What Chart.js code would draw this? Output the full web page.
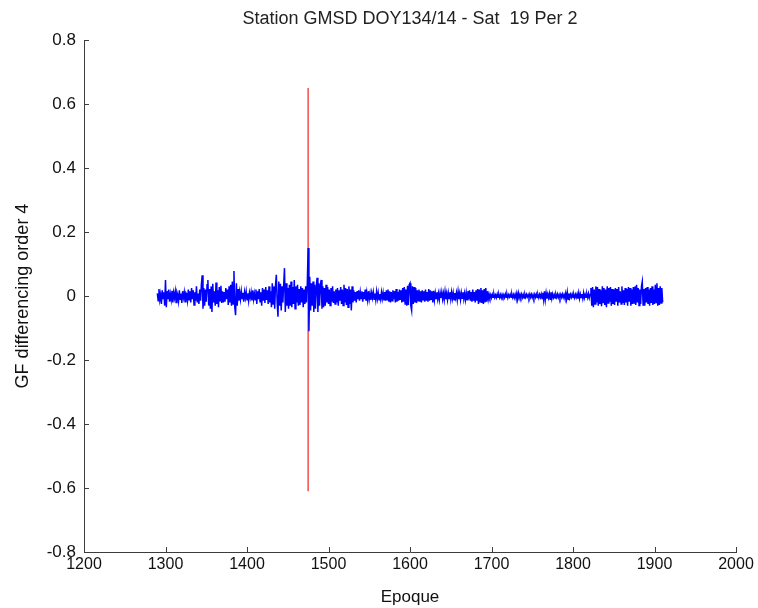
<!DOCTYPE html>
<html>
<head>
<meta charset="utf-8">
<title>GF differencing order 4</title>
<script src="https://cdn.jsdelivr.net/npm/chart.js@4.4.1/dist/chart.umd.min.js"></script>
<style>
  html, body { margin: 0; padding: 0; background: #fff; }
  #wrap { width: 758px; height: 608px; }
</style>
</head>
<body>
<div id="wrap"><canvas id="gfChart" width="758" height="608"></canvas></div>
<script>
// GF values, one per epoch from 1290 to 1910
const epochStart = 1290;
const epochStep = 1;
const gfValues = [
  // 1290
  0.008, -0.015, 0.022, -0.012, 0.005, -0.025, 0.018, -0.008, 0.012, -0.03, 0.05, -0.035, 0.015, -0.01, 0.02, -0.018, 0.006, -0.012, 0.016, -0.02,
  // 1310
  0.01, -0.006, 0.014, -0.02, 0.012, 0.004, -0.016, 0.018, -0.01, 0.008, -0.022, 0.015, -0.005, 0.012, -0.018, 0.01, 0.006, -0.014, 0.02, -0.012,
  // 1330
  0.015, -0.02, 0.025, -0.01, 0.018, -0.028, 0.012, -0.015, 0.03, -0.02, 0.008, -0.025, 0.02, -0.015, 0.035, 0.065, -0.04, 0.025, -0.03, 0.02,
  // 1350
  -0.018, 0.035, 0.05, -0.03, 0.022, -0.04, 0.03, -0.05, 0.038, -0.02, 0.015, -0.03, 0.042, -0.025, 0.018, -0.035, 0.028, -0.015, 0.032, -0.022,
  // 1370
  0.015, -0.02, 0.012, -0.018, 0.025, -0.01, 0.02, -0.028, 0.03, -0.02, 0.035, -0.03, 0.045, -0.025, 0.078, -0.035, -0.06, 0.04, -0.03, 0.022,
  // 1390
  -0.015, 0.012, -0.01, 0.015, -0.008, 0.01, -0.018, 0.012, -0.006, 0.014, -0.012, 0.008, -0.015, 0.01, -0.005, 0.012, -0.014, 0.018, -0.01, 0.008,
  // 1410
  -0.012, 0.02, -0.025, 0.015, -0.01, 0.022, -0.018, 0.012, -0.03, 0.025, -0.015, 0.02, -0.022, 0.028, -0.012, 0.018, -0.025, 0.03, -0.02, 0.015,
  // 1430
  -0.035, 0.04, -0.025, 0.03, -0.04, 0.035, 0.066, -0.02, -0.065, 0.045, -0.03, 0.038, -0.045, 0.03, -0.02, 0.035, 0.087, -0.05, 0.04, -0.03,
  // 1450
  0.025, -0.04, 0.035, -0.03, 0.045, -0.035, 0.028, -0.025, 0.05, -0.04, 0.03, -0.02, 0.035, -0.03, 0.022, -0.028, 0.03, -0.02, 0.025, -0.035,
  // 1470
  0.02, -0.025, 0.03, -0.02, 0.04, 0.15, -0.11, 0.06, -0.045, 0.04, -0.03, 0.045, -0.05, 0.035, -0.04, 0.03, 0.057, -0.05, 0.04, -0.03,
  // 1490
  0.035, 0.05, -0.04, 0.03, -0.035, 0.025, -0.03, 0.035, -0.02, 0.028, -0.025, 0.02, -0.03, 0.025, -0.018, 0.03, -0.022, 0.015, -0.025, 0.02,
  // 1510
  -0.02, 0.025, -0.03, 0.018, -0.015, 0.028, -0.025, 0.02, -0.03, 0.035, -0.02, 0.025, -0.028, 0.022, -0.035, 0.03, -0.025, 0.02, -0.045, 0.03,
  // 1530
  -0.02, 0.018, -0.015, 0.012, -0.02, 0.015, -0.01, 0.018, -0.015, 0.012, -0.008, 0.015, -0.018, 0.012, -0.01, 0.02, -0.015, 0.01, -0.012, 0.015,
  // 1550
  -0.01, 0.008, -0.012, 0.01, -0.006, 0.012, -0.01, 0.008, -0.012, 0.014, -0.008, 0.01, -0.012, 0.006, -0.01, 0.012, -0.008, 0.01, -0.014, 0.012,
  // 1570
  -0.015, 0.018, -0.012, 0.02, -0.018, 0.015, -0.02, 0.012, -0.015, 0.018, -0.01, 0.015, -0.02, 0.022, -0.018, 0.012, -0.015, 0.02, -0.012, 0.018,
  // 1590
  -0.02, 0.025, -0.018, 0.028, -0.025, 0.02, -0.03, 0.032, -0.028, 0.035, 0.04, -0.03, -0.045, 0.03, -0.025, 0.028, -0.02, 0.025, -0.022, 0.018,
  // 1610
  -0.015, 0.02, -0.018, 0.015, -0.02, 0.018, -0.012, 0.015, -0.018, 0.02, -0.015, 0.012, -0.018, 0.022, -0.015, 0.018, -0.012, 0.015, -0.02, 0.016,
  // 1630
  -0.012, 0.01, -0.008, 0.012, -0.01, 0.008, -0.012, 0.01, -0.006, 0.012, -0.01, 0.008, -0.012, 0.014, -0.01, 0.008, -0.012, 0.01, -0.008, 0.012,
  // 1650
  -0.01, 0.012, -0.008, 0.01, -0.012, 0.009, -0.006, 0.01, -0.012, 0.014, -0.01, 0.008, -0.012, 0.01, -0.007, 0.012, -0.01, 0.008, -0.012, 0.01,
  // 1670
  -0.012, 0.015, -0.01, 0.018, -0.015, 0.012, -0.018, 0.02, -0.015, 0.012, -0.02, 0.018, -0.015, 0.022, -0.025, 0.02, -0.018, 0.025, -0.022, 0.018,
  // 1690
  -0.025, 0.022, -0.02, 0.025, -0.018, 0.015, -0.01, 0.006, -0.005, 0.004, -0.006, 0.005, -0.004, 0.006, -0.005, 0.003, -0.005, 0.006, -0.004, 0.005,
  // 1710
  -0.005, 0.004, -0.006, 0.005, -0.003, 0.004, -0.005, 0.006, -0.004, 0.005, -0.006, 0.004, -0.003, 0.005, -0.004, 0.006, -0.005, 0.004, -0.006, 0.005,
  // 1730
  -0.006, 0.008, -0.01, 0.009, -0.006, 0.005, -0.004, 0.006, -0.005, 0.004, -0.006, 0.005, -0.004, 0.005, -0.003, 0.004, -0.005, 0.006, -0.004, 0.005,
  // 1750
  -0.005, 0.004, -0.006, 0.005, -0.004, 0.006, -0.005, 0.004, -0.006, 0.005, -0.004, 0.006, -0.008, 0.01, -0.012, 0.015, -0.012, 0.01, -0.008, 0.006,
  // 1770
  -0.006, 0.008, -0.01, 0.012, -0.008, 0.006, -0.005, 0.004, -0.006, 0.005, -0.004, 0.006, -0.005, 0.004, -0.006, 0.005, -0.004, 0.006, -0.005, 0.004,
  // 1790
  -0.006, 0.008, -0.01, 0.012, -0.01, 0.008, -0.006, 0.005, -0.004, 0.006, -0.005, 0.004, -0.006, 0.005, -0.004, 0.006, -0.008, 0.01, -0.008, 0.006,
  // 1810
  -0.005, 0.006, -0.008, 0.01, -0.006, 0.005, -0.004, 0.006, -0.005, 0.008, -0.006, 0.005, 0.025, -0.03, 0.028, -0.035, 0.02, -0.025, 0.03, -0.02,
  // 1830
  0.028, -0.03, 0.022, -0.025, 0.018, -0.032, 0.03, -0.02, 0.025, -0.028, 0.02, -0.035, 0.03, -0.022, 0.025, -0.018, 0.028, -0.03, 0.022, -0.025,
  // 1850
  0.02, -0.028, 0.025, -0.018, 0.022, -0.03, 0.028, -0.02, 0.015, -0.025, 0.03, -0.022, 0.018, -0.028, 0.025, -0.02, 0.022, -0.03, 0.028, -0.018,
  // 1870
  0.025, -0.03, 0.02, -0.025, 0.028, -0.022, 0.03, -0.028, 0.035, -0.02, 0.025, -0.03, 0.02, -0.025, 0.03, 0.045, -0.028, 0.022, -0.03, 0.025,
  // 1890
  -0.02, 0.028, -0.025, 0.02, -0.03, 0.025, -0.022, 0.03, -0.028, 0.02, -0.025, 0.035, -0.02, 0.04, -0.03, 0.025, -0.028, 0.03, -0.022, 0.025,
  // 1910
  -0.02
];

// vertical red marker (cycle slip)
const slipEpoch = 1475;
const slipRange = [-0.61, 0.65];

// axis ticks
const xTicks = [1200, 1300, 1400, 1500, 1600, 1700, 1800, 1900, 2000];
const yTicks = [-0.8, -0.6, -0.4, -0.2, 0, 0.2, 0.4, 0.6, 0.8];

const titleText = "Station GMSD DOY134/14 - Sat  19 Per 2";
const xTitle = "Epoque";
const yTitle = "GF differencing order 4";

const FONT = "'Liberation Sans', Arial, Helvetica, sans-serif";
const AXIS_COLOR = "#3c3c3c";

// build points
const gfPoints = gfValues.map((v, i) => ({ x: epochStart + i * epochStep, y: v }));
const slipPoints = slipRange.map(v => ({ x: slipEpoch, y: v }));

// matlab style ticks pointing into the plot
const inwardTicks = {
  id: "inwardTicks",
  afterDraw(chart) {
    const ctx = chart.ctx;
    const xs = chart.scales.x;
    const ys = chart.scales.y;
    const len = 5;
    ctx.save();
    ctx.strokeStyle = AXIS_COLOR;
    ctx.lineWidth = 1;
    ctx.beginPath();
    xs.ticks.forEach(t => {
      const px = Math.round(xs.getPixelForValue(t.value)) + 0.5;
      ctx.moveTo(px, ys.bottom);
      ctx.lineTo(px, ys.bottom - len);
    });
    ys.ticks.forEach(t => {
      const py = Math.round(ys.getPixelForValue(t.value)) + 0.5;
      ctx.moveTo(xs.left, py);
      ctx.lineTo(xs.left + len, py);
    });
    ctx.stroke();
    ctx.restore();
  }
};

// title centred over the plot area, like matlab does
const plotTitle = {
  id: "plotTitle",
  afterDraw(chart) {
    const a = chart.chartArea;
    const ctx = chart.ctx;
    ctx.save();
    ctx.fillStyle = "#222";
    ctx.font = "18px " + FONT;
    ctx.textAlign = "center";
    ctx.textBaseline = "middle";
    ctx.fillText(titleText, (a.left + a.right) / 2, 19);
    ctx.restore();
  }
};

const ctx = document.getElementById("gfChart").getContext("2d");
new Chart(ctx, {
  type: "scatter",
  data: {
    datasets: [
      {
        label: "slip",
        data: slipPoints,
        showLine: true,
        borderColor: "rgb(240,50,50)",
        borderWidth: 1.3,
        pointRadius: 0,
        order: 2
      },
      {
        label: "GF",
        data: gfPoints,
        showLine: true,
        borderColor: "#0000ff",
        borderWidth: 1.5,
        pointRadius: 0,
        tension: 0,
        order: 1
      }
    ]
  },
  options: {
    responsive: false,
    animation: false,
    devicePixelRatio: 1,
    layout: { padding: { left: 0, right: 22, top: 40, bottom: 0 } },
    plugins: {
      legend: { display: false },
      tooltip: { enabled: false },
      title: { display: false }
    },
    scales: {
      x: {
        type: "linear",
        min: 1200,
        max: 2000,
        afterBuildTicks: s => { s.ticks = xTicks.map(v => ({ value: v })); },
        afterFit: s => { s.height = 56; },
        grid: { display: false, drawTicks: false },
        border: { display: true, color: AXIS_COLOR, width: 1 },
        ticks: {
          color: "#111",
          font: { family: FONT, size: 16 },
          padding: 3,
          maxRotation: 0,
          autoSkip: false,
          callback: v => String(v)
        },
        title: {
          display: true,
          text: xTitle,
          color: "#111",
          font: { family: FONT, size: 17 },
          padding: { top: 1, bottom: 0 }
        }
      },
      y: {
        type: "linear",
        min: -0.8,
        max: 0.8,
        afterBuildTicks: s => { s.ticks = yTicks.map(v => ({ value: v })); },
        afterFit: s => { s.width = 84; },
        grid: { display: false, drawTicks: false },
        border: { display: true, color: AXIS_COLOR, width: 1 },
        ticks: {
          color: "#111",
          font: { family: FONT, size: 17 },
          padding: 8,
          autoSkip: false,
          callback: v => String(parseFloat(Number(v).toFixed(1)))
        },
        title: {
          display: true,
          text: yTitle,
          color: "#111",
          font: { family: FONT, size: 18 },
          padding: { top: 12, bottom: 0 }
        }
      }
    }
  },
  plugins: [inwardTicks, plotTitle]
});
</script>
</body>
</html>
